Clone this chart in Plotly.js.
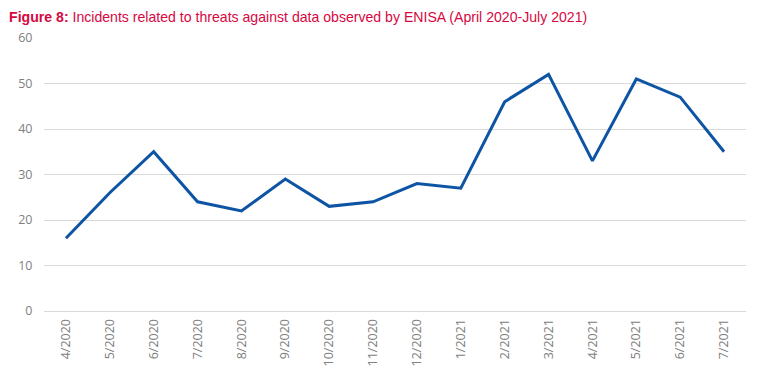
<!DOCTYPE html>
<html><head><meta charset="utf-8">
<script src="https://cdn.plot.ly/plotly-3.0.1.min.js"></script>
<style>html,body{margin:0;padding:0;background:#fff}#chart{width:757px;height:378px}</style>
</head><body><div id="chart"></div>
<script>
const months = ["4/2020","5/2020","6/2020","7/2020","8/2020","9/2020","10/2020","11/2020","12/2020","1/2021","2/2021","3/2021","4/2021","5/2021","6/2021","7/2021"];
const incidents = [16,26,35,24,22,29,23,24,28,27,46,52,33,51,47,35];
const yTicks = [0,10,20,30,40,50,60];

Plotly.newPlot('chart', [{
  type: 'scatter', mode: 'lines', x: months, y: incidents,
  line: {color: '#0d54a4', width: 3}, hoverinfo: 'x+y'
}], {
  width: 757, height: 378,
  margin: {l: 44, r: 11, t: 38, b: 67},
  paper_bgcolor: '#fff', plot_bgcolor: '#fff',
  title: {text: '<b>Figure 8:</b> Incidents related to threats against data observed by ENISA (April 2020-July 2021)',
    font: {family: 'Liberation Sans, Arial, sans-serif', size: 14.1, color: '#d7073f'},
    x: 0.012, xanchor: 'left', y: 0.955, yanchor: 'middle'},
  xaxis: {type: 'category', range: [-0.5, 15.5], tickangle: -90,
    tickfont: {family: 'Open Sans, sans-serif', size: 12.5, color: '#808080'},
    showgrid: false, showline: false, zeroline: false, ticks: 'outside', ticklen: 2, tickcolor: 'rgba(0,0,0,0)'},
  yaxis: {range: [0, 60], tickvals: yTicks, ticktext: yTicks.map(String),
    tickfont: {family: 'Open Sans, sans-serif', size: 12.5, color: '#7f7f7f'},
    gridcolor: '#d9d9d9', gridwidth: 1, zeroline: true, zerolinecolor: '#d9d9d9', zerolinewidth: 1,
    showline: false, ticks: 'outside', ticklen: 8, tickcolor: 'rgba(0,0,0,0)'},
  showlegend: false
}, {displayModeBar: false});
</script></body></html>
